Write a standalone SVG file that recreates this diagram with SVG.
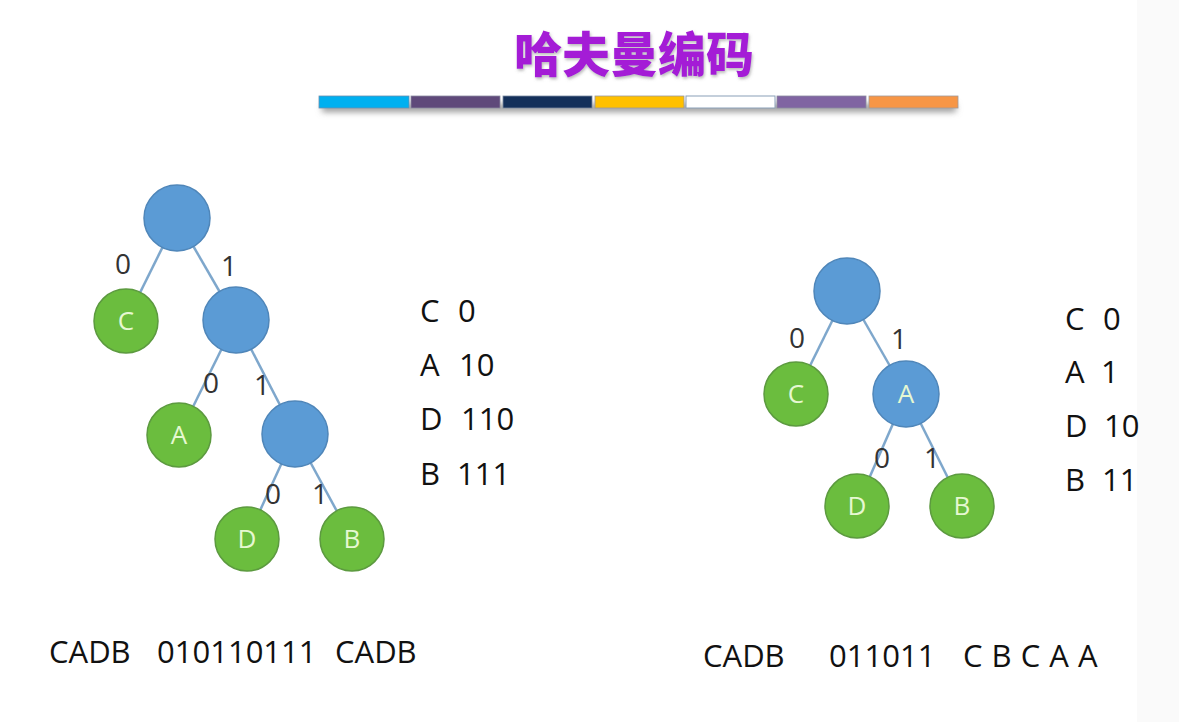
<svg xmlns="http://www.w3.org/2000/svg" width="1179" height="722" viewBox="0 0 1179 722">
<style>
.edge{stroke:#7ea7cc;stroke-width:2.5;fill:none}
.inner{fill:#5b9bd5;stroke:#4f86b9;stroke-width:1.5}
.leaf{fill:#6bbd3e;stroke:#5c9a3f;stroke-width:1.5}
.nl{font-family:"Open Sans","Liberation Sans",sans-serif;font-size:26px;fill:#e6f8d2;text-anchor:middle}
.el{font-family:"Open Sans","Liberation Sans",sans-serif;font-size:28px;fill:#333;text-anchor:middle}
.tx{font-family:"Open Sans","Liberation Sans",sans-serif;font-size:31px;fill:#111}
.title{font-family:"Noto Sans CJK SC","Noto Sans CJK JP",sans-serif;font-size:48px;font-weight:900;fill:#a41cd6;text-anchor:middle}
</style>
<defs>
<filter id="sh" x="-10%" y="-100%" width="120%" height="400%"><feGaussianBlur stdDeviation="3"/></filter>
<filter id="tsh" x="-5%" y="-20%" width="110%" height="140%"><feDropShadow dx="1" dy="2" stdDeviation="1.5" flood-color="#777" flood-opacity="0.5"/></filter>
</defs>
<rect width="1179" height="722" fill="#ffffff"/>
<rect x="1137" y="0" width="42" height="722" fill="#fafafa"/>
<g id="title">
<text class="title" x="634" y="72" filter="url(#tsh)">哈夫曼编码</text>
</g>
<g id="colorbar">
<rect x="322" y="104" width="634" height="8" fill="#999" filter="url(#sh)"/>
<rect x="319" y="96" width="90" height="12" fill="#00b0f0" stroke="#6a8fb0" stroke-width="0.8"/>
<rect x="411" y="96" width="89" height="12" fill="#5f497a" stroke="#8a8aa0" stroke-width="0.8"/>
<rect x="503" y="96" width="89" height="12" fill="#14305a" stroke="#7a8aa0" stroke-width="0.8"/>
<rect x="595" y="96" width="89" height="12" fill="#ffc000" stroke="#9a9aa0" stroke-width="0.8"/>
<rect x="686" y="96" width="89" height="12" fill="#ffffff" stroke="#8aa0b8" stroke-width="1"/>
<rect x="777" y="96" width="89" height="12" fill="#8064a2" stroke="#8a8aa0" stroke-width="0.8"/>
<rect x="869" y="96" width="89" height="12" fill="#f79646" stroke="#a09a9a" stroke-width="0.8"/>
</g>
<g id="connectors">
<line class="edge" x1="177" y1="218" x2="126" y2="321"/>
<line class="edge" x1="177" y1="218" x2="236" y2="320"/>
<line class="edge" x1="236" y1="320" x2="179" y2="435"/>
<line class="edge" x1="236" y1="320" x2="295" y2="434"/>
<line class="edge" x1="295" y1="434" x2="247" y2="539"/>
<line class="edge" x1="295" y1="434" x2="352" y2="539"/>
<line class="edge" x1="847" y1="291" x2="796" y2="394"/>
<line class="edge" x1="847" y1="291" x2="906" y2="394"/>
<line class="edge" x1="906" y1="394" x2="857" y2="506"/>
<line class="edge" x1="906" y1="394" x2="962" y2="506"/>
<text class="el" x="123" y="274">0</text>
<text class="el" x="229" y="276">1</text>
<text class="el" x="211" y="393">0</text>
<text class="el" x="262" y="395">1</text>
<text class="el" x="273" y="504">0</text>
<text class="el" x="320" y="504">1</text>
<text class="el" x="797" y="348">0</text>
<text class="el" x="899" y="349">1</text>
<text class="el" x="882" y="468">0</text>
<text class="el" x="932" y="468">1</text>
</g>
<g id="L-root"><circle class="inner" cx="177" cy="218" r="33"/></g>
<g id="L-C"><circle class="leaf" cx="126" cy="321" r="32"/><text class="nl" x="126" y="330">C</text></g>
<g id="L-n2"><circle class="inner" cx="236" cy="320" r="33"/></g>
<g id="L-A"><circle class="leaf" cx="179" cy="435" r="32"/><text class="nl" x="179" y="444">A</text></g>
<g id="L-n3"><circle class="inner" cx="295" cy="434" r="33"/></g>
<g id="L-D"><circle class="leaf" cx="247" cy="539" r="32"/><text class="nl" x="247" y="548">D</text></g>
<g id="L-B"><circle class="leaf" cx="352" cy="539" r="32"/><text class="nl" x="352" y="548">B</text></g>
<g id="R-root"><circle class="inner" cx="847" cy="291" r="33"/></g>
<g id="R-C"><circle class="leaf" cx="796" cy="394" r="32"/><text class="nl" x="796" y="403">C</text></g>
<g id="R-A"><circle class="inner" cx="906" cy="394" r="33"/><text class="nl" x="906" y="403">A</text></g>
<g id="R-D"><circle class="leaf" cx="857" cy="506" r="32"/><text class="nl" x="857" y="515">D</text></g>
<g id="R-B"><circle class="leaf" cx="962" cy="506" r="32"/><text class="nl" x="962" y="515">B</text></g>
<g id="legend-left">
<text class="tx" x="420" y="322">C</text><text class="tx" x="458" y="322">0</text>
<text class="tx" x="420" y="376">A</text><text class="tx" x="459" y="376">10</text>
<text class="tx" x="420" y="430">D</text><text class="tx" x="461" y="430">110</text>
<text class="tx" x="420" y="485">B</text><text class="tx" x="457" y="485">111</text>
</g>
<g id="legend-right">
<text class="tx" x="1065" y="330">C</text><text class="tx" x="1103" y="330">0</text>
<text class="tx" x="1065" y="383">A</text><text class="tx" x="1101" y="383">1</text>
<text class="tx" x="1065" y="437">D</text><text class="tx" x="1104" y="437">10</text>
<text class="tx" x="1065" y="491">B</text><text class="tx" x="1102" y="491">11</text>
</g>
<g id="bottom-left">
<text class="tx" x="49" y="663">CADB</text>
<text class="tx" x="157" y="663">010110111</text>
<text class="tx" x="335" y="663">CADB</text>
</g>
<g id="bottom-right">
<text class="tx" x="703" y="667">CADB</text>
<text class="tx" x="829" y="667">011011</text>
<text class="tx" x="963" y="667" xml:space="preserve" word-spacing="1">C B C A A</text>
</g>
</svg>
